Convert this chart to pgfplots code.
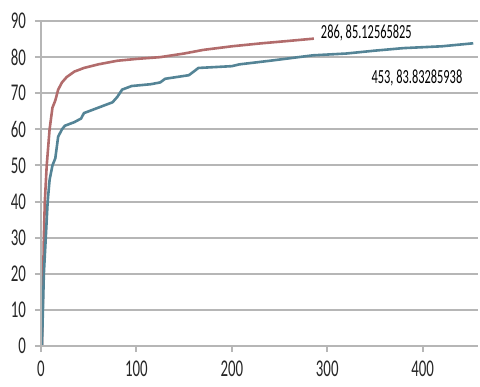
\documentclass[border=0pt]{standalone}
\usepackage{fontspec}
\setmainfont{Carlito}[FakeStretch=0.62]
\usepackage{pgfplots}
\pgfplotsset{compat=1.18}
\definecolor{redline}{RGB}{178,108,108}
\definecolor{blueline}{RGB}{84,132,150}
\definecolor{gridc}{RGB}{182,182,182}
\begin{document}
\begin{tikzpicture}
\path[use as bounding box] (-20.5pt,-20pt) rectangle (219.5pt,173pt);
\begin{axis}[
  at={(0,0)}, anchor=south west,
  scale only axis, width=218.5pt, height=162.5pt,
  xmin=0, xmax=458, ymin=0, ymax=90,
  xtick={0,100,200,300,400}, ytick={0,10,...,90},
  /pgf/number format/assume math mode=true,
  ticklabel style={font=\fontsize{12}{12}\selectfont, text=black!85},
  separate axis lines,
  axis line style={gridc, line width=1pt},
  every outer x axis line/.append style={draw=none},
  every outer y axis line/.append style={draw=none},
  major tick length=3pt,
  tick style={gridc, line width=1pt},
  tick align=outside,
  xtick pos=bottom, ytick pos=left,
  xticklabel shift=1pt, yticklabel shift=1pt,
  ymajorgrids=true,
  major grid style={gridc, line width=1pt},
  clip=false,
  extra description/.code={
    \draw[gridc, line width=1pt] (rel axis cs:0,0) -- (rel axis cs:1,0);
    \draw[gridc, line width=1pt] (rel axis cs:0,0) -- (rel axis cs:0,1);
  },
]
\addplot[redline, line width=1.3pt] coordinates {
(1,0) (2,15) (3,30) (4,40) (6,50) (9,60) (12,66) (15,68) (18,71) (22,73) (27,74.5)
(35,76) (45,77) (60,78) (80,79) (100,79.5) (125,80) (150,81) (170,82) (200,83)
(230,83.8) (260,84.5) (286,85.12565825)};
\addplot[blueline, line width=1.3pt] coordinates {
(1,0) (3,20) (5,30) (7,40) (9,46) (12,50) (15,52) (18,58) (22,60) (25,61) (35,62)
(42,63) (45,64.5) (55,65.5) (65,66.5) (75,67.5) (80,69) (85,71) (95,72) (115,72.5)
(125,73) (130,74) (155,75) (165,77) (200,77.5) (208,78) (240,79) (285,80.5)
(320,81) (350,81.8) (380,82.5) (420,83) (453,83.83285938)};
\node[anchor=west, inner sep=0pt, font=\fontsize{10}{10}\selectfont] at (axis cs:293,86.7) {286, 85.12565825};
\node[anchor=west, inner sep=0pt, font=\fontsize{10}{10}\selectfont] at (axis cs:346,74.3) {453, 83.83285938};
\end{axis}
\end{tikzpicture}
\end{document}
